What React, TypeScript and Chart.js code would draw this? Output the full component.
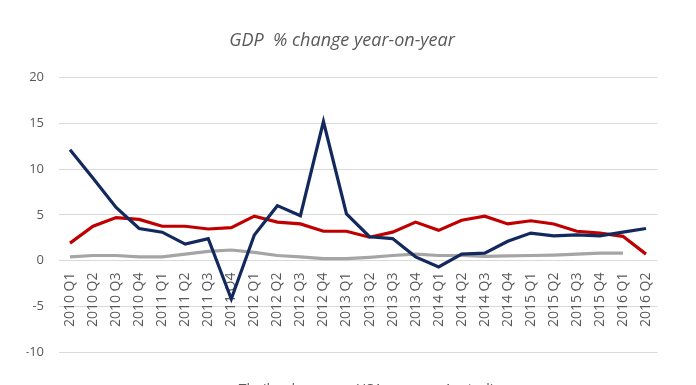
import React, { useEffect, useRef } from "react";
import { Chart, registerables } from "chart.js";

Chart.register(...registerables);

const categories = [
  "2010 Q1", "2010 Q2", "2010 Q3", "2010 Q4",
  "2011 Q1", "2011 Q2", "2011 Q3", "2011 Q4",
  "2012 Q1", "2012 Q2", "2012 Q3", "2012 Q4",
  "2013 Q1", "2013 Q2", "2013 Q3", "2013 Q4",
  "2014 Q1", "2014 Q2", "2014 Q3", "2014 Q4",
  "2015 Q1", "2015 Q2", "2015 Q3", "2015 Q4",
  "2016 Q1", "2016 Q2",
];

const thailand = [
  12.1, 9.0, 5.8, 3.5, 3.1, 1.8, 2.4, -4.2,
  2.8, 6.0, 4.9, 15.2, 5.1, 2.6, 2.4, 0.4,
  -0.7, 0.7, 0.8, 2.1, 3.0, 2.7, 2.8, 2.7,
  3.1, 3.5,
];

const usa = [
  1.9, 3.75, 4.7, 4.5, 3.75, 3.75, 3.45, 3.6,
  4.85, 4.2, 4.0, 3.2, 3.2, 2.55, 3.1, 4.2,
  3.3, 4.4, 4.85, 4.0, 4.35, 4.0, 3.2, 3.0,
  2.65, 0.7,
];

const australia: (number | null)[] = [
  0.4, 0.55, 0.55, 0.4, 0.4, 0.7, 1.0, 1.15,
  0.9, 0.55, 0.4, 0.2, 0.2, 0.35, 0.55, 0.7,
  0.55, 0.55, 0.45, 0.5, 0.55, 0.6, 0.7, 0.8,
  0.8, null,
];

const yTicks = [-10, -5, 0, 5, 10, 15, 20];

const legendShift = {
  id: "legendShift",
  afterLayout(chart: any) {
    if (chart.legend) {
      chart.legend.left += 13;
      chart.legend.right += 13;
    }
  },
};

export default function App() {
  const ref = useRef<HTMLCanvasElement | null>(null);

  useEffect(() => {
    document.body.style.margin = "0";
    const canvas = ref.current;
    if (!canvas) return;
    const chart = new Chart(canvas, {
      type: "line",
      data: {
        labels: categories,
        datasets: [
          { label: "Thailand", data: thailand, borderColor: "#13285c", backgroundColor: "#13285c", borderWidth: 3.2, pointRadius: 0, tension: 0 },
          { label: "USA", data: usa, borderColor: "#c00000", backgroundColor: "#c00000", borderWidth: 3.2, pointRadius: 0, tension: 0 },
          { label: "Australia", data: australia, borderColor: "#a5a5a5", backgroundColor: "#a5a5a5", borderWidth: 3.2, pointRadius: 0, tension: 0 },
        ],
      },
      options: {
        animation: false,
        responsive: false,
        maintainAspectRatio: false,
        layout: { padding: { left: 26.5, right: 38.5, top: 0, bottom: 0 } },
        plugins: {
          title: {
            display: true,
            text: "GDP  % change year-on-year",
            color: "#595959",
            font: { family: "'Open Sans', sans-serif", size: 18, style: "italic", weight: "normal" },
            padding: { top: 30, bottom: 26 },
          },
          legend: {
            display: true,
            position: "bottom",
            labels: {
              color: "#595959",
              font: { family: "'Open Sans', sans-serif", size: 14 },
              boxWidth: 23,
              boxHeight: 3,
              padding: 31,
            },
          },
          tooltip: { enabled: false },
        },
        scales: {
          x: {
            type: "category",
            position: { y: 0 } as any,
            offset: true,
            grid: { display: false, drawTicks: false },
            border: { display: false },
            ticks: {
              autoSkip: false,
              minRotation: 90,
              maxRotation: 90,
              padding: 12,
              color: "#595959",
              font: { family: "'Open Sans', sans-serif", size: 14 },
            },
          },
          y: {
            min: -10,
            max: 20,
            afterFit: (s: any) => { s.width = 32; },
            afterBuildTicks: (s: any) => { s.ticks = yTicks.map((v) => ({ value: v })); },
            grid: { color: "#d9d9d9", lineWidth: 1, drawTicks: false },
            border: { display: false },
            ticks: {
              padding: 14.5,
              color: "#595959",
              font: { family: "'Open Sans', sans-serif", size: 13 },
            },
          },
        },
      },
      plugins: [legendShift],
    });
    return () => chart.destroy();
  }, []);

  return (
    <div style={{ width: 696, height: 385, overflow: "hidden" }}>
      <canvas ref={ref} width={696} height={407} style={{ display: "block", width: 696, height: 407 }} />
    </div>
  );
}
